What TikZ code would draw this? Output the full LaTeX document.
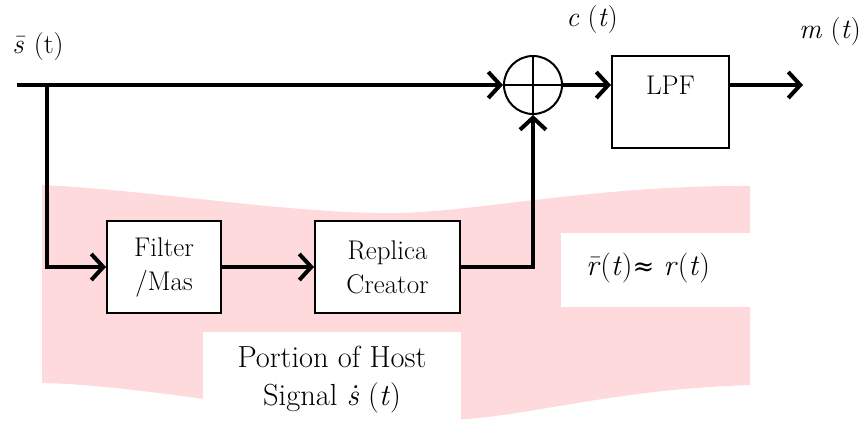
\documentclass[tikz,border=0pt]{standalone}
\usepackage{fontspec}
\newfontfamily\dvs{DejaVu Serif}
\usetikzlibrary{arrows.meta}
\definecolor{pinkbg}{RGB}{255,218,220}
\begin{document}
\begin{tikzpicture}[x=1pt,y=-1pt,
  wire/.style={line width=4pt},
  arr/.style={wire,-{Straight Barb[length=12pt,width=26pt,line width=4pt]}},
  blk/.style={draw,line width=2pt,fill=white,align=center,inner sep=0pt,
    font=\fontsize{27}{34}\selectfont},
  lbl/.style={inner sep=0pt,font=\fontsize{28}{34}\selectfont},
]
\useasboundingbox (0,0) rectangle (862,425);
% pink wave background
\fill[pinkbg] (42,185) .. controls (150,190) and (300,215) .. (400,213)
  .. controls (480,211) and (600,185) .. (750,186)
  -- (750,385) .. controls (600,390) and (520,420) .. (440,420)
  .. controls (300,420) and (150,385) .. (42,383) -- cycle;
\fill[white] (561,233) rectangle (751,307);
\fill[white] (203,332) rectangle (461,426);
% nodes
\node[blk,minimum width=114,minimum height=92] (filt) at (164,267) {Filter\\/Mas};
\node[blk,minimum width=145,minimum height=92] (rep) at (387.5,267) {Replica\\Creator};
\node[blk,minimum width=117,minimum height=92] (lpf) at (670.5,102) {LPF\\\mbox{}};
\node[draw,circle,line width=2pt,minimum size=58,inner sep=0pt] (sum) at (533,85) {};
\draw[line width=2pt] (sum.north) -- (sum.south) (sum.west) -- (sum.east);
% labels
\node[lbl] (sl) at (38,47) {\textit{\=s} (t)};
\node[lbl] (cl) at (592,20) {\textit{c} (\textit{t})};
\node[lbl] (ml) at (830,32) {\textit{m} (\textit{t})};
\node[lbl,font=\fontsize{30}{36}\selectfont] (rl) at (648,268) {\textit{\=r}(\textit{t}){\dvs\fontsize{26}{30}\selectfont ≈} \textit{r}(\textit{t})};
\node[lbl,align=center,font=\fontsize{30.5}{38}\selectfont] (pl) at (332,380) {Portion of Host\\Signal \textit{\.s} (\textit{t})};
% wires
\coordinate (in) at (17,85);
\coordinate (j) at (47,85);
\coordinate (j2) at (47,267);
\coordinate (k) at (533,267);
\coordinate (out) at (803,85);
\draw[wire] (in) -- (j);
\draw[arr] (j) -- (sum.west);
\draw[wire,line cap=rect] (j) -- (j2);
\draw[arr] (j2) -- (filt.west);
\draw[arr] (filt.east) -- (rep.west);
\draw[arr,line join=miter] (rep.east) -- (k) -- (sum.south);
\draw[arr] (sum.east) -- (lpf.west |- sum.east);
\draw[arr] (lpf.east |- out) -- (out);
\end{tikzpicture}
\end{document}
